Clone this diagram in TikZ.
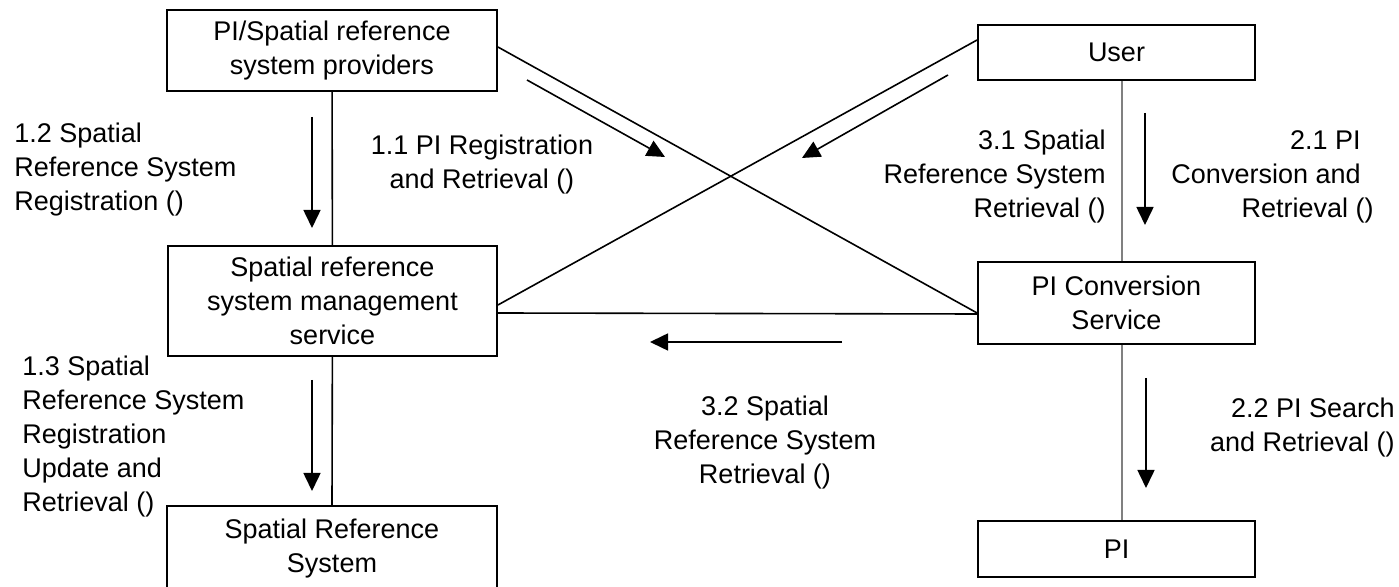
\documentclass[tikz,border=0pt]{standalone}
\usepackage{fontspec}
\setmainfont{Liberation Sans}
\usetikzlibrary{arrows.meta}

\begin{document}
\begin{tikzpicture}[x=0.5pt, y=-0.5pt, font=\fontsize{13.5}{17}\selectfont,
  box/.style={draw, line width=0.9pt, align=center, inner sep=0pt},
  lbl/.style={inner sep=0pt},
  link/.style={line width=0.8pt},
  flow/.style={line width=0.8pt, -{Triangle[length=9pt,width=8.5pt]}}]
  \useasboundingbox (0,0) rectangle (1399,587);

  \node[box, minimum width=165pt, minimum height=40.5pt] (prov) at (332,50.5) {PI/Spatial reference\\system providers};
  \node[box, minimum width=138.5pt, minimum height=27.5pt] (user) at (1116.5,52.5) {User};
  \node[box, minimum width=164.5pt, minimum height=55pt] (mgmt) at (332.5,301) {Spatial reference\\system management\\service};
  \node[box, minimum width=138.5pt, minimum height=41pt] (conv) at (1116.5,303) {PI Conversion\\Service};
  \node[box, minimum width=165pt, anchor=north, inner ysep=6.5pt, text depth=40pt] (srs) at (332,505) {Spatial Reference\\System};
  \node[box, minimum width=138.5pt, minimum height=28pt] (pi) at (1116.5,549) {PI};

  \draw[link] (prov) -- (mgmt);
  \draw[link] (mgmt) -- (srs.north);
  \draw[link, draw=gray] ([xshift=2.75pt]user.south) -- ([xshift=2.75pt]conv.north);
  \draw[link, draw=gray] ([xshift=2.75pt]conv.south) -- ([xshift=2.75pt]pi.north);
  \draw[link] ([yshift=1.75pt]prov.east) -- ([yshift=-5pt]conv.west);
  \draw[link] ([yshift=6.25pt]user.west) -- ([yshift=-2pt]mgmt.east);
  \draw[link] ([yshift=-6pt]mgmt.east) -- ([yshift=-5.5pt]conv.west);

  \coordinate (f11a) at (527,80);
  \coordinate (f11b) at (665,157);
  \coordinate (f12a) at (312,117);
  \coordinate (f12b) at (312,228);
  \coordinate (f13a) at (312,380);
  \coordinate (f13b) at (312,491);
  \coordinate (f21a) at (1145,113);
  \coordinate (f21b) at (1145,225);
  \coordinate (f22a) at (1146,378);
  \coordinate (f22b) at (1146,488);
  \coordinate (f31a) at (948,75);
  \coordinate (f31b) at (802,158);
  \coordinate (f32a) at (842,342);
  \coordinate (f32b) at (650,342);

  \draw[flow] (f11a) -- (f11b);
  \draw[flow] (f12a) -- (f12b);
  \draw[flow] (f13a) -- (f13b);
  \draw[flow] (f21a) -- (f21b);
  \draw[flow] (f22a) -- (f22b);
  \draw[flow] (f31a) -- (f31b);
  \draw[flow] (f32a) -- (f32b);

  \node[lbl, align=left, anchor=west] (t12) at (14,170) {1.2 Spatial\\Reference System\\Registration ()};
  \node[lbl, align=center] (t11) at (482,165) {1.1 PI Registration\\and Retrieval ()};
  \node[lbl, align=right, anchor=east] (t31) at (1106,177) {3.1 Spatial\\Reference System\\Retrieval ()};
  \node[lbl, align=right, anchor=east] (t21) at (1374,177) {2.1 PI\kern6.5pt\\Conversion and\kern6.5pt\\Retrieval ()};
  \node[lbl, align=left, anchor=west] (t13) at (22,437) {1.3 Spatial\\Reference System\\Registration\\Update and\\Retrieval ()};
  \node[lbl, align=center] (t32) at (765,443) {3.2 Spatial\\Reference System\\Retrieval ()};
  \node[lbl, align=right, anchor=east] (t22) at (1395,428) {2.2 PI Search\\and Retrieval ()};
\end{tikzpicture}
\end{document}
